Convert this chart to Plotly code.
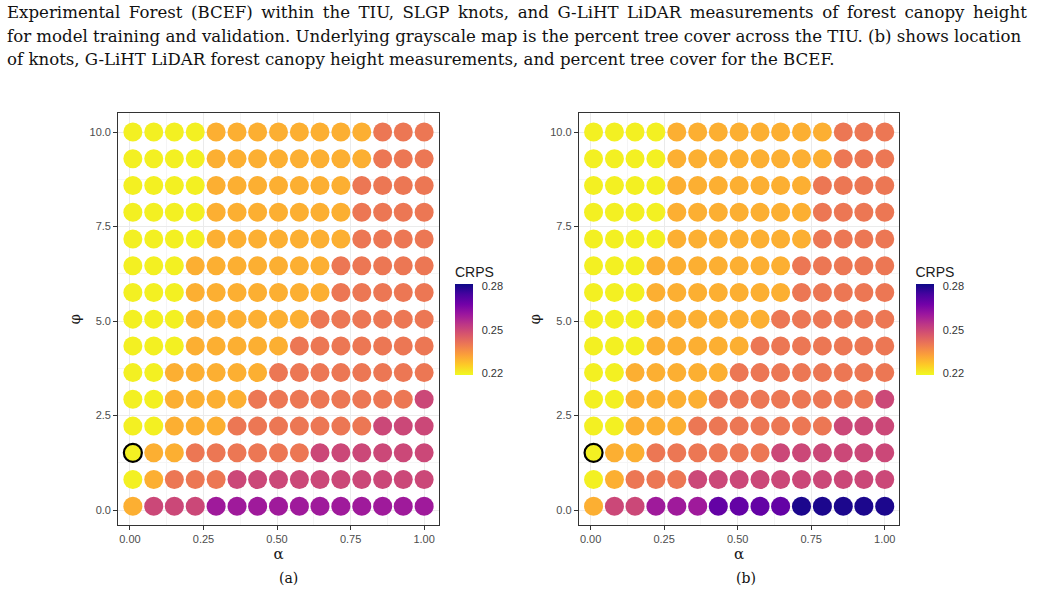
import plotly.graph_objects as go

# ---------------- data ----------------
alpha = [0.01, 0.081, 0.151, 0.222, 0.293, 0.364, 0.434, 0.505,
         0.576, 0.646, 0.717, 0.788, 0.859, 0.929, 1.0]
phi = [0.1, 0.807, 1.514, 2.221, 2.929, 3.636, 4.343, 5.05,
       5.757, 6.464, 7.171, 7.879, 8.586, 9.293, 10.0]

# CRPS for panel (a); one row per phi value (ascending phi), columns follow alpha
crps_a = [
    [0.23, 0.25, 0.25, 0.25, 0.26, 0.26, 0.26, 0.26, 0.26, 0.26, 0.26, 0.26, 0.26, 0.26, 0.26],
    [0.22, 0.23, 0.24, 0.24, 0.24, 0.25, 0.25, 0.25, 0.25, 0.25, 0.25, 0.25, 0.25, 0.25, 0.25],
    [0.22, 0.23, 0.23, 0.24, 0.24, 0.24, 0.24, 0.24, 0.24, 0.25, 0.25, 0.25, 0.25, 0.25, 0.25],
    [0.22, 0.22, 0.23, 0.23, 0.23, 0.24, 0.24, 0.24, 0.24, 0.24, 0.24, 0.24, 0.25, 0.25, 0.25],
    [0.22, 0.22, 0.23, 0.23, 0.23, 0.23, 0.24, 0.24, 0.24, 0.24, 0.24, 0.24, 0.24, 0.24, 0.25],
    [0.22, 0.22, 0.23, 0.23, 0.23, 0.23, 0.23, 0.24, 0.24, 0.24, 0.24, 0.24, 0.24, 0.24, 0.24],
    [0.22, 0.22, 0.22, 0.23, 0.23, 0.23, 0.23, 0.23, 0.24, 0.24, 0.24, 0.24, 0.24, 0.24, 0.24],
    [0.22, 0.22, 0.22, 0.23, 0.23, 0.23, 0.23, 0.23, 0.23, 0.24, 0.24, 0.24, 0.24, 0.24, 0.24],
    [0.22, 0.22, 0.22, 0.23, 0.23, 0.23, 0.23, 0.23, 0.23, 0.23, 0.24, 0.24, 0.24, 0.24, 0.24],
    [0.22, 0.22, 0.22, 0.23, 0.23, 0.23, 0.23, 0.23, 0.23, 0.23, 0.24, 0.24, 0.24, 0.24, 0.24],
    [0.22, 0.22, 0.22, 0.22, 0.23, 0.23, 0.23, 0.23, 0.23, 0.23, 0.23, 0.24, 0.24, 0.24, 0.24],
    [0.22, 0.22, 0.22, 0.22, 0.23, 0.23, 0.23, 0.23, 0.23, 0.23, 0.23, 0.24, 0.24, 0.24, 0.24],
    [0.22, 0.22, 0.22, 0.22, 0.23, 0.23, 0.23, 0.23, 0.23, 0.23, 0.23, 0.24, 0.24, 0.24, 0.24],
    [0.22, 0.22, 0.22, 0.22, 0.23, 0.23, 0.23, 0.23, 0.23, 0.23, 0.23, 0.23, 0.24, 0.24, 0.24],
    [0.22, 0.22, 0.22, 0.22, 0.23, 0.23, 0.23, 0.23, 0.23, 0.23, 0.23, 0.23, 0.24, 0.24, 0.24],
]

# CRPS for panel (b)
crps_b = [
    [0.23, 0.25, 0.25, 0.26, 0.26, 0.26, 0.27, 0.27, 0.27, 0.27, 0.28, 0.28, 0.28, 0.28, 0.28],
    [0.22, 0.23, 0.24, 0.24, 0.24, 0.25, 0.25, 0.25, 0.25, 0.25, 0.25, 0.25, 0.25, 0.25, 0.25],
    [0.22, 0.23, 0.23, 0.24, 0.24, 0.24, 0.24, 0.24, 0.24, 0.25, 0.25, 0.25, 0.25, 0.25, 0.25],
    [0.22, 0.22, 0.23, 0.23, 0.23, 0.24, 0.24, 0.24, 0.24, 0.24, 0.24, 0.24, 0.25, 0.25, 0.25],
    [0.22, 0.22, 0.23, 0.23, 0.23, 0.23, 0.24, 0.24, 0.24, 0.24, 0.24, 0.24, 0.24, 0.24, 0.25],
    [0.22, 0.22, 0.23, 0.23, 0.23, 0.23, 0.23, 0.24, 0.24, 0.24, 0.24, 0.24, 0.24, 0.24, 0.24],
    [0.22, 0.22, 0.22, 0.23, 0.23, 0.23, 0.23, 0.23, 0.24, 0.24, 0.24, 0.24, 0.24, 0.24, 0.24],
    [0.22, 0.22, 0.22, 0.23, 0.23, 0.23, 0.23, 0.23, 0.23, 0.24, 0.24, 0.24, 0.24, 0.24, 0.24],
    [0.22, 0.22, 0.22, 0.23, 0.23, 0.23, 0.23, 0.23, 0.23, 0.23, 0.24, 0.24, 0.24, 0.24, 0.24],
    [0.22, 0.22, 0.22, 0.23, 0.23, 0.23, 0.23, 0.23, 0.23, 0.23, 0.24, 0.24, 0.24, 0.24, 0.24],
    [0.22, 0.22, 0.22, 0.22, 0.23, 0.23, 0.23, 0.23, 0.23, 0.23, 0.23, 0.24, 0.24, 0.24, 0.24],
    [0.22, 0.22, 0.22, 0.22, 0.23, 0.23, 0.23, 0.23, 0.23, 0.23, 0.23, 0.24, 0.24, 0.24, 0.24],
    [0.22, 0.22, 0.22, 0.22, 0.23, 0.23, 0.23, 0.23, 0.23, 0.23, 0.23, 0.24, 0.24, 0.24, 0.24],
    [0.22, 0.22, 0.22, 0.22, 0.23, 0.23, 0.23, 0.23, 0.23, 0.23, 0.23, 0.23, 0.24, 0.24, 0.24],
    [0.22, 0.22, 0.22, 0.22, 0.23, 0.23, 0.23, 0.23, 0.23, 0.23, 0.23, 0.23, 0.24, 0.24, 0.24],
]

# selected (highlighted) combination
best_alpha = 0.01
best_phi = 1.514

x_tickvals = [0, 0.25, 0.5, 0.75, 1.0]
x_ticktext = ["0.00", "0.25", "0.50", "0.75", "1.00"]
y_tickvals = [0, 2.5, 5.0, 7.5, 10.0]
y_ticktext = ["0.0", "2.5", "5.0", "7.5", "10.0"]
cbar_tickvals = [0.22, 0.25, 0.28]
cbar_ticktext = ["0.22", "0.25", "0.28"]

caption_lines = [
    "Experimental Forest (BCEF) within the TIU, SLGP knots, and G-LiHT LiDAR measurements of forest canopy height",
    "for model training and validation. Underlying grayscale map is the percent tree cover across the TIU. (b) shows location",
    "of knots, G-LiHT LiDAR forest canopy height measurements, and percent tree cover for the BCEF.",
]
# extra inter-word spacing to imitate the justified paragraph (first line)
caption_word_gap = [" \u2009", " ", " "]
panel_labels = ["(a)", "(b)"]

# ---------------- figure ----------------
W, H = 1040, 595
fig = go.Figure()

SANS = "Liberation Sans, Arial, sans-serif"
SERIF = "DejaVu Serif, serif"


def flat(grid):
    xs, ys, cs = [], [], []
    for i, p in enumerate(phi):
        for j, a in enumerate(alpha):
            xs.append(a)
            ys.append(p)
            cs.append(grid[i][j])
    return xs, ys, cs


panels = [
    dict(grid=crps_a, xa="x", ya="y", ca="coloraxis"),
    dict(grid=crps_b, xa="x2", ya="y2", ca="coloraxis2"),
]

for pn in panels:
    xs, ys, cs = flat(pn["grid"])
    fig.add_trace(go.Scatter(
        x=xs, y=ys, mode="markers", xaxis=pn["xa"], yaxis=pn["ya"],
        marker=dict(size=19, color=cs, coloraxis=pn["ca"], line=dict(width=0)),
        showlegend=False, hovertemplate="α=%{x}<br>φ=%{y}<br>CRPS=%{marker.color}<extra></extra>",
    ))
    bi = phi.index(best_phi)
    bj = alpha.index(best_alpha)
    fig.add_trace(go.Scatter(
        x=[best_alpha], y=[best_phi], mode="markers", xaxis=pn["xa"], yaxis=pn["ya"],
        marker=dict(size=18, color=[pn["grid"][bi][bj]], coloraxis=pn["ca"],
                    line=dict(width=2.2, color="black")),
        showlegend=False, hoverinfo="skip",
    ))

# panel frames in pixels
xa_dom = [118.3 / W, 438.7 / W]
xb_dom = [579.0 / W, 899.3 / W]
y_dom = [(H - 525.0) / H, (H - 113.3) / H]

common_x = dict(
    range=[-0.0495 + 0.01, 1.0495], tickvals=x_tickvals, ticktext=x_ticktext,
    ticks="outside", ticklen=4, tickwidth=1, tickcolor="#333333",
    showline=True, linecolor="#333333", linewidth=1.3, mirror=True,
    showgrid=True, gridcolor="#ebebeb", gridwidth=1, zeroline=False,
    minor=dict(dtick=0.125, tick0=0, showgrid=True, gridcolor="#f5f5f5", gridwidth=0.6),
    tickfont=dict(family=SANS, size=11, color="#4d4d4d"),
    title=dict(text="α", font=dict(family=SERIF, size=15, color="#1a1a1a"), standoff=1),
)
common_y = dict(
    range=[-0.395, 10.495], tickvals=y_tickvals, ticktext=y_ticktext,
    ticks="outside", ticklen=4, tickwidth=1, tickcolor="#333333",
    showline=True, linecolor="#333333", linewidth=1.3, mirror=True,
    showgrid=True, gridcolor="#ebebeb", gridwidth=1, zeroline=False,
    minor=dict(dtick=1.25, tick0=0, showgrid=True, gridcolor="#f5f5f5", gridwidth=0.6),
    tickfont=dict(family=SANS, size=11, color="#4d4d4d"),
    title=dict(text="φ", font=dict(family=SERIF, size=15, color="#1a1a1a"), standoff=5),
)

fig.update_layout(
    xaxis=dict(domain=xa_dom, anchor="y", **common_x),
    yaxis=dict(domain=y_dom, anchor="x", **common_y),
    xaxis2=dict(domain=xb_dom, anchor="y2", **common_x),
    yaxis2=dict(domain=y_dom, anchor="x2", **common_y),
)


def cax(x_left):
    return dict(
        colorscale="Plasma", reversescale=True, cmin=0.2186, cmax=0.2818,
        colorbar=dict(
            x=x_left / W, xanchor="left", xpad=0, ypad=0,
            y=(H - 319) / H, yanchor="middle",
            thickness=18, thicknessmode="pixels", len=112, lenmode="pixels",
            tickvals=cbar_tickvals, ticktext=cbar_ticktext,
            ticks="outside", ticklen=7, tickcolor="white", outlinewidth=0,
            tickfont=dict(family=SANS, size=11, color="#333333"),
            title=dict(text="CRPS", side="top", font=dict(family=SANS, size=14, color="#1a1a1a")),
        ),
    )


fig.update_layout(coloraxis=cax(455), coloraxis2=cax(915.5))

annotations = []
for k, line in enumerate(caption_lines):
    annotations.append(dict(
        text=caption_word_gap[k].join(line.split(" ")),
        xref="paper", yref="paper", x=5 / W, y=(H - (12.5 + 23.5 * k)) / H,
        xanchor="left", yanchor="middle", showarrow=False,
        font=dict(family=SERIF, size=16.6, color="#111111"),
    ))
for lab, cx in zip(panel_labels, [288, 746]):
    annotations.append(dict(
        text=lab, xref="paper", yref="paper", x=cx / W, y=(H - 578) / H,
        xanchor="center", yanchor="middle", showarrow=False,
        font=dict(family=SERIF, size=14, color="#111111"),
    ))

fig.update_layout(
    width=W, height=H, margin=dict(l=0, r=0, t=0, b=0),
    paper_bgcolor="white", plot_bgcolor="white",
    annotations=annotations,
)

fig.write_html("out.html")
